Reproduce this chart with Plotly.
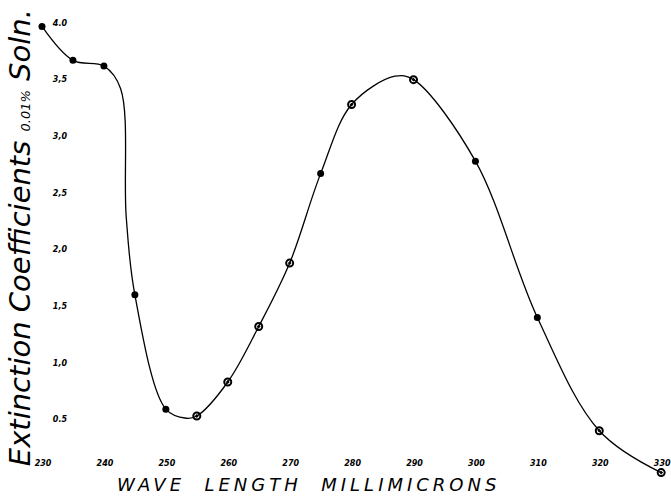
import plotly.graph_objects as go

# Measured points (wavelength in millimicrons, extinction coefficient)
wavelength = [230, 235, 240, 245, 250, 255, 260, 265, 270, 275, 280, 290, 300, 310, 320, 330]
extinction = [3.97, 3.67, 3.62, 1.60, 0.59, 0.53, 0.83, 1.32, 1.88, 2.67, 3.28, 3.50, 2.78, 1.40, 0.40, 0.03]
filled = [True, True, True, True, True, False, False, False, False, True, False, False, True, True, False, False]

# Extra points (knee, minimum, peak)
curve_x_extra = [242.7, 243.6, 253.3, 287.0]
curve_y_extra = [3.42, 2.29, 0.51, 3.53]

x_ticks = [230, 240, 250, 260, 270, 280, 290, 300, 310, 320, 330]
x_tick_text = ["230", "240", "250", "260", "270", "280", "290", "300", "310", "320", "330"]
y_ticks = [0.5, 1.0, 1.5, 2.0, 2.5, 3.0, 3.5, 4.0]
y_tick_text = ["0.5", "1,0", "1,5", "2,0", "2,5", "3,0", "3,5", "4.0"]

curve = sorted(zip(wavelength + curve_x_extra, extinction + curve_y_extra))
cx = [p[0] for p in curve]
cy = [p[1] for p in curve]

fig = go.Figure()
fig.add_trace(go.Scatter(x=cx, y=cy, mode="lines",
                         line=dict(color="black", width=1.3, shape="spline", smoothing=1.0),
                         hoverinfo="skip", showlegend=False))
fx = [w for w, f in zip(wavelength, filled) if f]
fy = [e for e, f in zip(extinction, filled) if f]
ox = [w for w, f in zip(wavelength, filled) if not f]
oy = [e for e, f in zip(extinction, filled) if not f]
fig.add_trace(go.Scatter(x=fx, y=fy, mode="markers", cliponaxis=False,
                         marker=dict(color="black", size=7, symbol="circle"), showlegend=False))
fig.add_trace(go.Scatter(x=ox, y=oy, mode="markers", cliponaxis=False,
                         marker=dict(color="black", size=7, symbol="circle-open-dot",
                                     line=dict(width=2, color="black")), showlegend=False))

tickfont = dict(family="DejaVu Sans", size=8, color="black", style="italic", weight="bold")
fig.update_layout(
    width=671, height=496,
    margin=dict(l=42, r=0, t=23, b=20),
    paper_bgcolor="white", plot_bgcolor="white",
    xaxis=dict(range=[230, 331.1], tickvals=x_ticks, ticktext=x_tick_text,
               showgrid=False, zeroline=False, showline=False, ticks="",
               anchor="free", position=0.042, tickfont=tickfont, ticklabelshift=1,
               ticklabeloverflow="allow"),
    yaxis=dict(range=[0, 4.0], tickvals=y_ticks, ticktext=y_tick_text,
               showgrid=False, zeroline=False, showline=False, ticks="",
               anchor="free", position=0.04, tickfont=tickfont),
    annotations=[
        dict(text="Extinction Coefficients <span style='font-size:13px'>0.01%</span> Soln.",
             xref="paper", yref="paper", x=-0.036, y=0.526, textangle=-90,
             xanchor="center", yanchor="middle", showarrow=False,
             font=dict(family="DejaVu Sans", size=29, color="black", style="italic")),
        dict(text="<span style='letter-spacing:4px'>WAVE&nbsp;&nbsp;LENGTH&nbsp;&nbsp;MILLIMICRONS</span>",
             xref="paper", yref="paper", x=0.425, y=-0.019,
             xanchor="center", yanchor="middle", showarrow=False,
             font=dict(family="DejaVu Sans", size=18, color="black", style="italic")),
    ],
)

fig.write_html("out.html")
